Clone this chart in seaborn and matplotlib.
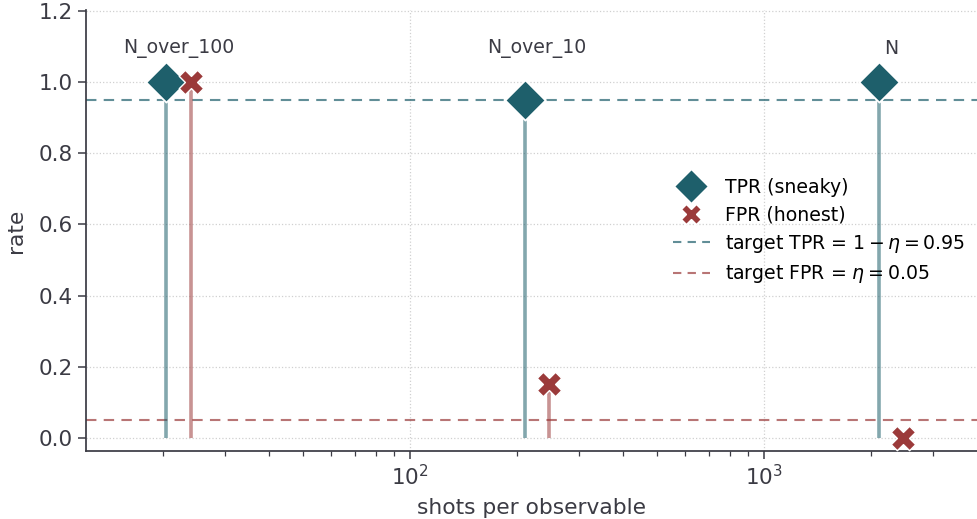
import numpy as np
import pandas as pd
import matplotlib
matplotlib.use("Agg")
import matplotlib.pyplot as plt
import seaborn as sns
from matplotlib.lines import Line2D

settings = ["N_over_100", "N_over_10", "N"]
shots = [20.5, 211, 2112]
tpr = [1.0, 0.95, 1.0]
fpr = [1.0, 0.15, 0.0]
target_tpr = 0.95
target_fpr = 0.05

TEAL = "#1e5f6b"
RED = "#9b3a3a"
TXT = "#3b3b44"

sns.set_theme(style="ticks")
plt.rcParams["font.family"] = ["DejaVu Sans"]
plt.rcParams["text.color"] = TXT
plt.rcParams["axes.labelcolor"] = TXT
plt.rcParams["xtick.color"] = TXT
plt.rcParams["ytick.color"] = TXT
plt.rcParams["axes.edgecolor"] = TXT

dodge = 1.17
df = pd.DataFrame({
    "setting": settings * 2,
    "x": list(shots) + [s * dodge for s in shots],
    "rate": tpr + fpr,
    "metric": ["TPR (sneaky)"] * 3 + ["FPR (honest)"] * 3,
})

fig = plt.figure(figsize=(9.77, 5.19), dpi=100)
ax = fig.add_axes([0.088, 0.131, 0.912, 0.85])

ax.set_xscale("log")
t = df[df.metric == "TPR (sneaky)"]
f = df[df.metric == "FPR (honest)"]
ax.vlines(t.x, 0, t.rate, color=TEAL, alpha=0.55, lw=2.6, zorder=2)
ax.vlines(f.x, 0, f.rate, color=RED, alpha=0.55, lw=2.6, zorder=2)

ax.axhline(target_tpr, color=TEAL, alpha=0.7, ls=(0, (5, 3.5)), lw=1.5, zorder=1)
ax.axhline(target_fpr, color=RED, alpha=0.7, ls=(0, (5, 3.5)), lw=1.5, zorder=1)

sns.scatterplot(data=t, x="x", y="rate", marker="D", s=420, color=TEAL,
                edgecolor="white", linewidth=1.3, ax=ax, zorder=4, legend=False)
sns.scatterplot(data=f, x="x", y="rate", marker="X", s=310, color=RED,
                edgecolor="white", linewidth=1.0, ax=ax, zorder=4, legend=False)

for name, s in zip(settings, shots):
    ax.text(s * np.sqrt(dodge), 1.093, name, ha="center", va="center",
            fontsize=13.6, color=TXT)

ax.set_xlim(12.15, 3997)
ax.set_ylim(-0.037, 1.203)
ax.set_yticks([0.0, 0.2, 0.4, 0.6, 0.8, 1.0, 1.2])
ax.grid(True, which="major", ls=":", color="#d0d0d0", lw=0.9)
ax.set_axisbelow(True)
sns.despine(ax=ax, top=True, right=True)
ax.tick_params(axis="both", which="major", labelsize=15.5, length=6, width=1.1)
ax.tick_params(axis="x", which="minor", length=3.5, width=0.9)
ax.set_xlabel("shots per observable", fontsize=15.7, labelpad=6)
ax.set_ylabel("rate", fontsize=15.7, labelpad=9)

handles = [
    Line2D([], [], marker="D", color=TEAL, ls="none", markersize=17,
           markeredgecolor="white"),
    Line2D([], [], marker="X", color=RED, ls="none", markersize=15,
           markeredgecolor="white"),
    Line2D([], [], color=TEAL, alpha=0.7, ls=(0, (4, 3)), lw=1.5),
    Line2D([], [], color=RED, alpha=0.7, ls=(0, (4, 3)), lw=1.5),
]
labels = ["TPR (sneaky)", "FPR (honest)",
          r"target TPR = $1-\eta = 0.95$", r"target FPR = $\eta = 0.05$"]
leg = ax.legend(handles, labels, loc="center left",
                bbox_to_anchor=(0.671, 0.554), bbox_transform=fig.transFigure,
                frameon=False, fontsize=13.6, handlelength=2.0,
                labelspacing=0.45, handletextpad=0.8)
for txt in leg.get_texts():
    txt.set_color("black")

fig.savefig("out.png", dpi=100)
